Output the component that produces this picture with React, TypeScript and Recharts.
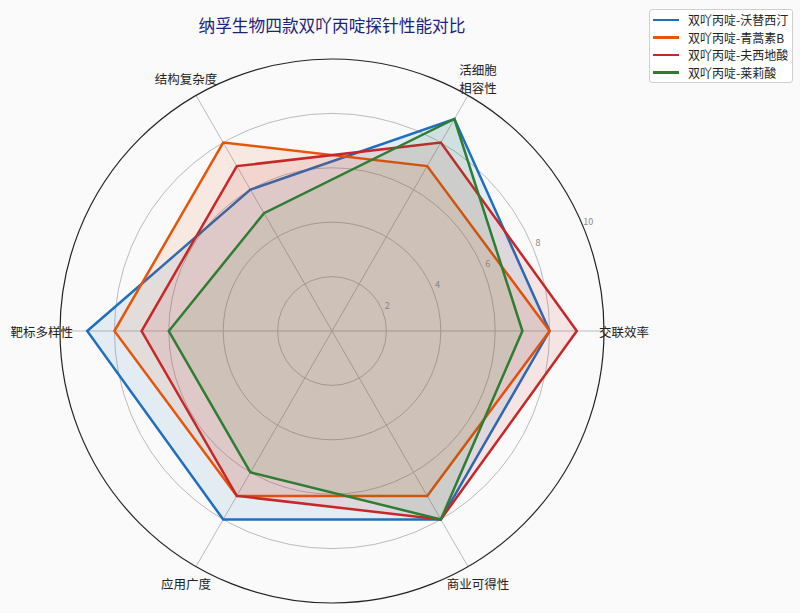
import React from "react";
import {
  RadarChart,
  Radar,
  PolarGrid,
  PolarAngleAxis,
  PolarRadiusAxis,
} from "recharts";

// axis categories, counter-clockwise from the right
const categories = ["交联效率", "活细胞\n相容性", "结构复杂度", "靶标多样性", "应用广度", "商业可得性"];

const vortioxetine = [8, 9, 6, 9, 8, 8];
const artemisininB = [8, 7, 8, 8, 7, 7];
const fusidicAcid = [9, 8, 7, 7, 7, 8];
const jasmonicAcid = [7, 9, 5, 6, 6, 8];

const radiusTicks = [2, 4, 6, 8, 10];

const seriesList = [
  { key: "wotixiting", name: "双吖丙啶-沃替西汀", color: "#1f6fbf", values: vortioxetine },
  { key: "qinghaosu", name: "双吖丙啶-青蒿素B", color: "#e5560a", values: artemisininB },
  { key: "fuxidisuan", name: "双吖丙啶-夫西地酸", color: "#c62828", values: fusidicAcid },
  { key: "molisuan", name: "双吖丙啶-莱莉酸", color: "#2e7d32", values: jasmonicAcid },
];

const CX = 332;
const CY = 331;
const R = 272;
const FONT = "'Noto Sans CJK SC', 'Noto Sans', sans-serif";

const chartData = categories.map((cat, i) => {
  const row: Record<string, string | number> = { category: cat };
  seriesList.forEach((s) => {
    row[s.key] = s.values[i];
  });
  return row;
});

function AngleTick(props: any) {
  const { payload } = props;
  const idx = categories.indexOf(payload.value);
  const angle = ((idx * 360) / categories.length) * (Math.PI / 180);
  const lines = String(payload.value).split("\n");
  const cos = Math.cos(angle);
  const sin = Math.sin(angle);
  const horizontal = Math.abs(sin) < 0.01;
  let r = 292;
  if (horizontal) r = cos > 0 ? 267 : 259;
  const x = CX + r * cos;
  const y = CY - r * sin;
  let anchor: "start" | "middle" | "end" = "middle";
  if (horizontal) anchor = cos > 0 ? "start" : "end";
  const lh = 18;
  const startY = y - ((lines.length - 1) * lh) / 2;
  return (
    <g>
      {lines.map((l, j) => (
        <text
          key={j}
          x={x}
          y={startY + j * lh}
          textAnchor={anchor}
          dominantBaseline="central"
          fontSize={12.5}
          fill="#222"
          fontFamily={FONT}
        >
          {l}
        </text>
      ))}
    </g>
  );
}

function RadiusTick(props: any) {
  const { x, y, payload } = props;
  return (
    <text
      x={x + 5}
      y={y - 5}
      textAnchor="middle"
      dominantBaseline="central"
      fontSize={9}
      fill="#888"
      fontFamily={FONT}
    >
      {payload.value}
    </text>
  );
}

export default function App() {
  const innerRings = radiusTicks.slice(0, -1).map((t) => (t / 10) * R);

  return (
    <div
      style={{
        position: "absolute",
        left: 0,
        top: 0,
        width: 800,
        height: 613,
        background: "#fafafa",
        fontFamily: FONT,
      }}
    >
      <div
        style={{
          position: "absolute",
          left: 0,
          width: 664,
          top: 13,
          textAlign: "center",
          fontSize: 16.7,
          color: "#1a237e",
        }}
      >
        纳孚生物四款双吖丙啶探针性能对比
      </div>

      <RadarChart
        width={800}
        height={613}
        data={chartData}
        cx={CX}
        cy={CY}
        outerRadius={R}
        startAngle={-60}
        endAngle={300}
        margin={{ top: 0, right: 0, bottom: 0, left: 0 }}
      >
        <PolarGrid gridType="circle" polarRadius={innerRings} stroke="#bbbbbb" strokeWidth={1} />
        <PolarGrid gridType="circle" polarRadius={[R]} radialLines={false} stroke="#222" strokeWidth={1.2} />
        <PolarAngleAxis dataKey="category" tick={AngleTick} tickLine={false} axisLine={false} />
        <PolarRadiusAxis
          angle={22.5}
          domain={[0, 10]}
          ticks={radiusTicks}
          tick={RadiusTick}
          axisLine={false}
          tickLine={false}
          tickCount={6}
        />
        {seriesList.map((s) => (
          <Radar
            key={s.key}
            name={s.name}
            dataKey={s.key}
            stroke={s.color}
            strokeWidth={2.5}
            fill={s.color}
            fillOpacity={0.1}
            dot={false}
            isAnimationActive={false}
          />
        ))}
      </RadarChart>

      <div
        style={{
          position: "absolute",
          left: 649,
          top: 9,
          width: 142,
          padding: "1px 0 1px 0",
          background: "#ffffff",
          border: "1px solid #d0d0d0",
          borderRadius: 3,
          fontSize: 12,
          color: "#222",
        }}
      >
        {seriesList.map((s) => (
          <div key={s.key} style={{ display: "flex", alignItems: "center", height: 17.5 }}>
            <span
              style={{
                display: "inline-block",
                width: 26,
                height: 2.5,
                background: s.color,
                marginLeft: 3,
                marginRight: 9,
              }}
            />
            <span>{s.name}</span>
          </div>
        ))}
      </div>
    </div>
  );
}
